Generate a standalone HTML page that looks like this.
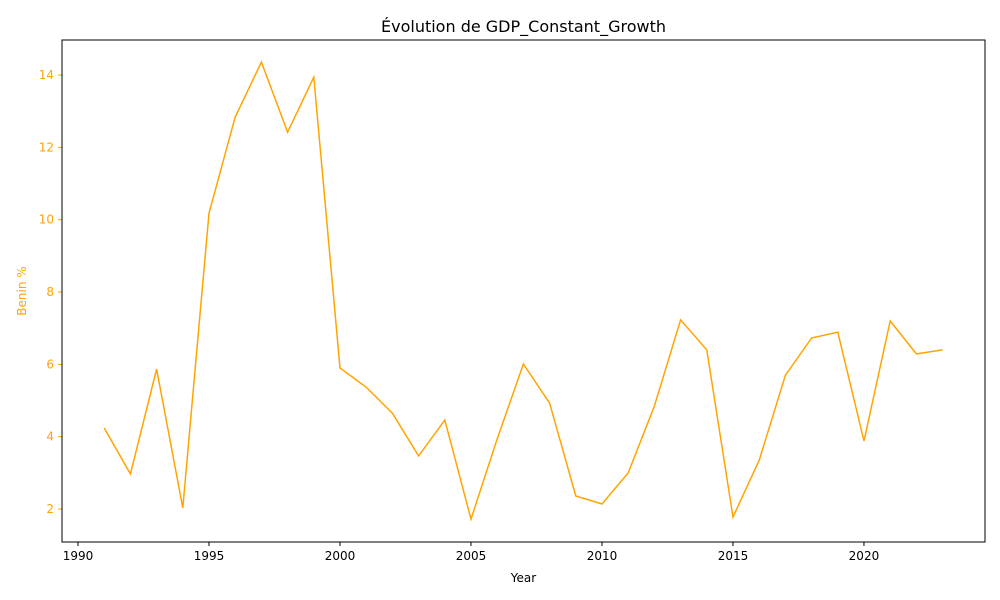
<!DOCTYPE html>
<html><head><meta charset="utf-8">
<style>
html,body{margin:0;padding:0;background:#fff;}
svg{display:block;font-family:"DejaVu Sans","Liberation Sans",sans-serif;}
</style></head>
<body>
<svg id="chart" width="1000" height="600" viewBox="0 0 1000 600" xmlns="http://www.w3.org/2000/svg">
<text x="523.5" y="32" font-size="16" text-anchor="middle" fill="#000">Évolution de GDP_Constant_Growth</text>
<g id="xt"></g>
<g id="yt"></g>
<path id="line" fill="none" stroke="#ffa500" stroke-width="1.5"/>
<rect x="62" y="40" width="923" height="502" fill="none" stroke="#000" stroke-width="1"/>
<text x="523.5" y="582" font-size="12" text-anchor="middle" fill="#000">Year</text>
<text x="0" y="0" font-size="12" text-anchor="middle" fill="#ffa500" transform="translate(26,291) rotate(-90)">Benin %</text>
</svg>
<script>
const years = [1991,1992,1993,1994,1995,1996,1997,1998,1999,2000,2001,2002,2003,2004,2005,2006,2007,2008,2009,2010,2011,2012,2013,2014,2015,2016,2017,2018,2019,2020,2021,2022,2023];
const growth = [4.24,2.97,5.87,2.03,10.18,12.84,14.36,12.42,13.94,5.90,5.37,4.65,3.47,4.46,1.72,3.94,6.01,4.93,2.36,2.14,3.00,4.85,7.23,6.40,1.78,3.35,5.70,6.73,6.89,3.88,7.20,6.29,6.40];
const xTicks = [1990,1995,2000,2005,2010,2015,2020];
const yTicks = [2,4,6,8,10,12,14];
const X0=62,X1=985,Y0=542,Y1=40;
const xMin=1989.39,xMax=2024.62,yMin=1.088,yMax=14.97;
const sx=v=>X0+(v-xMin)/(xMax-xMin)*(X1-X0);
const sy=v=>Y0-(v-yMin)/(yMax-yMin)*(Y0-Y1);
const NS="http://www.w3.org/2000/svg";
const xt=document.getElementById('xt'), yt=document.getElementById('yt');
xTicks.forEach(t=>{
  const x=sx(t);
  const l=document.createElementNS(NS,'line');
  
  
  l.setAttribute('x1',x);l.setAttribute('x2',x);l.setAttribute('y1',Y0);l.setAttribute('y2',Y0+4);l.setAttribute('stroke','#000');
  xt.appendChild(l);
  const tx=document.createElementNS(NS,'text');
  
  
  tx.setAttribute('x',x);tx.setAttribute('y',Y0+18);tx.setAttribute('font-size','12');tx.setAttribute('text-anchor','middle');
  tx.textContent=t;xt.appendChild(tx);
});
yTicks.forEach(t=>{
  const y=sy(t);
  const l=document.createElementNS(NS,'line');
  
  
  l.setAttribute('x1',X0-4);l.setAttribute('x2',X0);l.setAttribute('y1',y);l.setAttribute('y2',y);l.setAttribute('stroke','#ffa500');
  yt.appendChild(l);
  const tx=document.createElementNS(NS,'text');
  
  
  tx.setAttribute('x',X0-8);tx.setAttribute('y',y+4);tx.setAttribute('font-size','12');tx.setAttribute('text-anchor','end');tx.setAttribute('fill','#ffa500');
  tx.textContent=t;yt.appendChild(tx);
});
document.getElementById('line').setAttribute('d',years.map((yr,i)=>(i?'L':'M')+sx(yr).toFixed(1)+','+sy(growth[i]).toFixed(1)).join(''));
</script>
</body></html>
